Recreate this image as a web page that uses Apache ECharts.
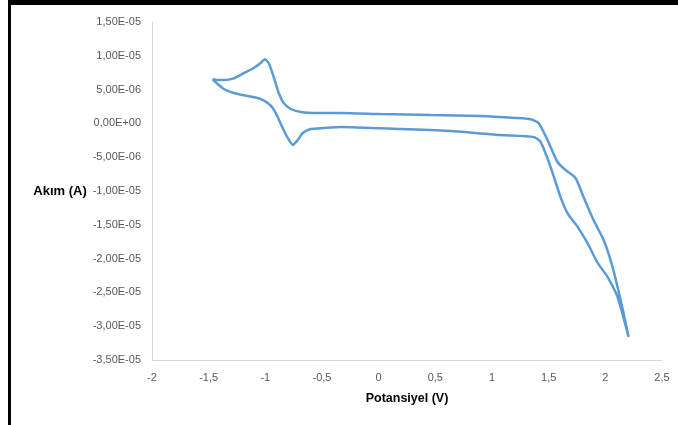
<!DOCTYPE html>
<html>
<head>
<meta charset="utf-8">
<script src="https://cdn.jsdelivr.net/npm/echarts@6/dist/echarts.min.js"></script>
<style>html,body{margin:0;padding:0;background:#fff;}#c{width:678px;height:425px;}</style>
</head>
<body>
<div id="c"></div>
<script>
// Potential (V) along the closed voltammogram loop
const potentialV = [
  -1.466, -1.422, -1.367, -1.279, -1.190, -1.102, -1.041, -1.005, -0.970, -0.926,
  -0.882, -0.838, -0.776, -0.688, -0.538, -0.335, 0.018, 0.459, 0.899, 1.208,
  1.340, 1.411, 1.490, 1.578, 1.649, 1.737, 1.808, 1.896, 1.984, 2.046,
  2.108, 2.160, 2.205,
  2.108, 2.019, 1.931, 1.843, 1.755, 1.667, 1.605, 1.517, 1.429, 1.367,
  1.076, 0.635, 0.194, -0.335, -0.485, -0.600, -0.670, -0.714, -0.758, -0.802,
  -0.847, -0.891, -0.935, -0.979, -1.041, -1.155, -1.279, -1.367, -1.411, -1.466
];
// Current in microamperes (converted to A below)
const currentMicroA = [
  6.52, 6.42, 6.42, 6.67, 7.45, 8.19, 8.93, 9.48, 8.93, 6.86,
  4.49, 3.02, 2.13, 1.69, 1.54, 1.54, 1.39, 1.24, 1.09, 0.80,
  0.61, 0.06, -2.46, -5.71, -6.89, -8.08, -10.9, -14.3, -17.2, -20.2,
  -24.2, -28.0, -31.6,
  -25.7, -22.7, -20.6, -17.7, -15.3, -13.3, -10.9, -6.45, -2.75, -2.01,
  -1.72, -1.12, -0.83, -0.53, -0.68, -0.83, -1.42, -2.46, -3.19, -2.16,
  -0.68, 0.95, 2.28, 3.02, 3.61, 4.05, 4.50, 5.09, 5.68, 6.52
];
const xTicks = {min: -2, max: 2.5, step: 0.5};
const yTicks = {min: -3.5e-5, max: 1.5e-5, step: 5e-6};
const xName = 'Potansiyel (V)';
const yName = 'Akım (A)';

const points = potentialV.map((v, i) => [v, currentMicroA[i] * 1e-6]);

function fmtSci(v) {
  if (Math.abs(v) < 1e-12) v = 0;
  let s = v.toExponential(2);
  let [m, e] = s.split('e');
  let sign = e[0] === '-' ? '-' : '+';
  let d = e.replace(/[+-]/, '');
  if (d.length < 2) d = '0' + d;
  return m.replace('.', ',') + 'E' + sign + d;
}

const chart = echarts.init(document.getElementById('c'), null, {renderer: 'canvas'});
chart.setOption({
  animation: false,
  backgroundColor: '#ffffff',
  grid: {left: 152, right: 16, top: 22, bottom: 65, containLabel: false},
  xAxis: {
    type: 'value',
    min: xTicks.min, max: xTicks.max, interval: xTicks.step,
    name: xName, nameLocation: 'middle', nameGap: 32,
    nameTextStyle: {fontFamily: 'Liberation Sans', fontSize: 12.5, fontWeight: 'bold', color: '#000'},
    axisLine: {show: true, onZero: false, lineStyle: {color: '#D9D9D9', width: 1}},
    axisTick: {show: false},
    splitLine: {show: false},
    axisLabel: {
      margin: 12, fontFamily: 'Liberation Sans', fontSize: 11, color: '#595959',
      formatter: v => String(Math.round(v * 10) / 10).replace('.', ',')
    }
  },
  yAxis: {
    type: 'value',
    min: yTicks.min, max: yTicks.max, interval: yTicks.step,
    name: yName, nameLocation: 'middle', nameRotate: 0, nameGap: 64,
    nameTextStyle: {fontFamily: 'Liberation Sans', fontSize: 13, fontWeight: 'bold', color: '#000', align: 'right'},
    axisLine: {show: true, onZero: false, lineStyle: {color: '#D9D9D9', width: 1}},
    axisTick: {show: false},
    splitLine: {show: false},
    axisLabel: {margin: 11, fontFamily: 'Liberation Sans', fontSize: 11, color: '#595959', formatter: fmtSci}
  },
  series: [{
    type: 'line',
    data: points,
    showSymbol: false,
    smooth: 0.2,
    lineStyle: {color: '#5B9BD5', width: 2.5},
    z: 3
  }],
  graphic: [
    {type: 'rect', shape: {x: 8, y: 0, width: 670, height: 5}, style: {fill: '#000'}},
    {type: 'rect', shape: {x: 8, y: 0, width: 3, height: 425}, style: {fill: '#000'}}
  ]
});
</script>
</body>
</html>
